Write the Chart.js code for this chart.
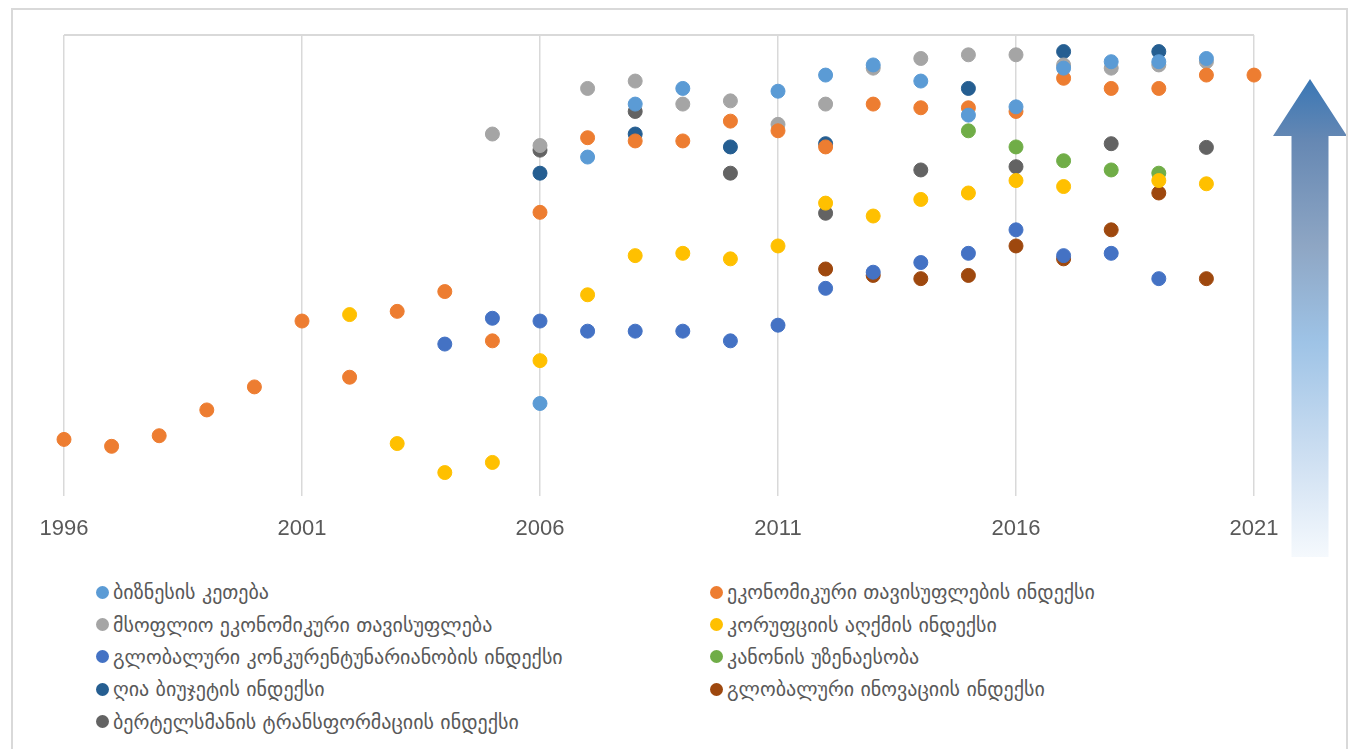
<!DOCTYPE html>
<html>
<head>
<meta charset="utf-8">
<script src="https://cdn.jsdelivr.net/npm/chart.js@4.4.1/dist/chart.umd.min.js"></script>
<style>
  body { margin: 0; background: #fff; width: 1353px; height: 749px; overflow: hidden; position: relative; }
  #frame { position: absolute; left: 11px; top: 8px; width: 1333px; height: 760px; border: 2px solid #D9D9D9; pointer-events: none; }
  #chart { position: absolute; left: 0; top: 0; }
  #legend { position: absolute; left: 96px; top: 576px; display: grid; grid-template-columns: 614px 620px; grid-auto-rows: 32.4px;
            font-family: "DejaVu Sans", sans-serif; font-size: 20px; color: #595959; }
  #legend div { display: flex; align-items: center; white-space: nowrap; }
  #legend span.dot { width: 13px; height: 13px; border-radius: 50%; margin-right: 4px; flex: none; }
</style>
</head>
<body>
<canvas id="chart" width="1353" height="562"></canvas>
<div id="legend"></div>
<div id="frame"></div>
<script>
// values are relative positions (0 = bottom of plot, 100 = top line)
const doingBusinessYears = [2006, 2007, 2008, 2009, 2011, 2012, 2013, 2014, 2015, 2016, 2017, 2018, 2019, 2020];
const doingBusiness = [20.0, 73.5, 85.0, 88.4, 87.8, 91.3, 93.5, 90.0, 82.6, 84.4, 92.8, 94.2, 94.2, 94.9];

const econFreedomYears = [1996, 1997, 1998, 1999, 2000, 2001, 2002, 2003, 2004, 2005, 2006, 2007, 2008,
                          2009, 2010, 2011, 2012, 2013, 2014, 2015, 2016, 2017, 2018, 2019, 2020, 2021];
const econFreedom = [12.2, 10.7, 13.0, 18.6, 23.6, 37.9, 25.7, 40.0, 44.3, 33.6, 61.5, 77.7, 77.0,
                     77.0, 81.3, 79.2, 75.7, 85.0, 84.2, 84.2, 83.4, 90.6, 88.4, 88.4, 91.3, 91.3];

const worldFreedomYears = [2005, 2006, 2007, 2008, 2009, 2010, 2011, 2012, 2013, 2014, 2015, 2016, 2017, 2018, 2019, 2020];
const worldFreedom = [78.5, 76.0, 88.4, 90.0, 85.0, 85.7, 80.6, 85.0, 92.8, 94.9, 95.7, 95.7, 93.5, 92.8, 93.5, 94.2];

const corruptionYears = [2002, 2003, 2004, 2005, 2006, 2007, 2008, 2009, 2010, 2011, 2012, 2013, 2014, 2015, 2016, 2017, 2019, 2020];
const corruption = [39.3, 11.3, 5.0, 7.2, 29.3, 43.6, 52.1, 52.6, 51.4, 54.2, 63.5, 60.7, 64.3, 65.7, 68.4, 67.1, 68.4, 67.7];

const competitivenessYears = [2004, 2005, 2006, 2007, 2008, 2009, 2010, 2011, 2012, 2013, 2014, 2015, 2016, 2017, 2018, 2019];
const competitiveness = [32.9, 38.5, 37.9, 35.7, 35.7, 35.7, 33.6, 37.0, 45.0, 48.5, 50.6, 52.6, 57.7, 52.1, 52.6, 47.1];

const ruleOfLawYears = [2015, 2016, 2017, 2018, 2019];
const ruleOfLaw = [79.2, 75.7, 72.7, 70.7, 70.0];

const openBudgetYears = [2006, 2008, 2010, 2012, 2015, 2017, 2019];
const openBudget = [70.0, 78.5, 75.7, 76.4, 88.4, 96.4, 96.4];

const innovationYears = [2012, 2013, 2014, 2015, 2016, 2017, 2018, 2019, 2020];
const innovation = [49.2, 47.8, 47.1, 47.8, 54.2, 51.4, 57.7, 65.7, 47.1];

const bertelsmannYears = [2006, 2008, 2010, 2012, 2014, 2016, 2018, 2020];
const bertelsmann = [75.0, 83.4, 70.0, 61.3, 70.7, 71.4, 76.4, 75.6];

const seriesNames = [
  "ბიზნესის კეთება",
  "ეკონომიკური თავისუფლების ინდექსი",
  "მსოფლიო ეკონომიკური თავისუფლება",
  "კორუფციის აღქმის ინდექსი",
  "გლობალური კონკურენტუნარიანობის ინდექსი",
  "კანონის უზენაესობა",
  "ღია ბიუჯეტის ინდექსი",
  "გლობალური ინოვაციის ინდექსი",
  "ბერტელსმანის ტრანსფორმაციის ინდექსი"
];
const seriesColors = ["#5B9BD5", "#ED7D31", "#A5A5A5", "#FFC000", "#4472C4", "#70AD47", "#255E91", "#9E480E", "#636363"];

const xTicks = [1996, 2001, 2006, 2011, 2016, 2021];

const seriesData = [
  [doingBusinessYears, doingBusiness],
  [econFreedomYears, econFreedom],
  [worldFreedomYears, worldFreedom],
  [corruptionYears, corruption],
  [competitivenessYears, competitiveness],
  [ruleOfLawYears, ruleOfLaw],
  [openBudgetYears, openBudget],
  [innovationYears, innovation],
  [bertelsmannYears, bertelsmann]
];

const datasets = seriesData.map((s, i) => ({
  label: seriesNames[i],
  data: s[0].map((yr, j) => ({ x: yr, y: s[1][j] })),
  backgroundColor: seriesColors[i],
  borderColor: seriesColors[i],
  pointRadius: 7,
  pointBorderWidth: 1,
  clip: false
}));

// gradient arrow on the right side
const arrowPlugin = {
  id: 'arrow',
  afterDraw(chart) {
    const c = chart.ctx;
    const g = c.createLinearGradient(0, 79, 0, 557);
    g.addColorStop(0, '#3A77B5');
    g.addColorStop(0.13, '#6688B3');
    g.addColorStop(0.35, '#8EA6C4');
    g.addColorStop(0.55, '#9EC3E6');
    g.addColorStop(0.8, '#CFE0F2');
    g.addColorStop(1, '#F5F9FD');
    c.save();
    c.fillStyle = g;
    c.beginPath();
    c.moveTo(1310, 79);
    c.lineTo(1347, 136);
    c.lineTo(1328.5, 136);
    c.lineTo(1328.5, 557);
    c.lineTo(1291.5, 557);
    c.lineTo(1291.5, 136);
    c.lineTo(1273, 136);
    c.closePath();
    c.fill();
    c.restore();
  }
};

const ctx = document.getElementById('chart').getContext('2d');
const chart = new Chart(ctx, {
  type: 'scatter',
  data: { datasets: datasets },
  options: {
    responsive: false,
    devicePixelRatio: 1,
    animation: false,
    events: [],
    layout: { padding: { left: 64, right: 99, top: 35, bottom: 0 } },
    plugins: { legend: { display: false }, tooltip: { enabled: false } },
    scales: {
      x: {
        type: 'linear',
        min: 1996,
        max: 2021,
        afterBuildTicks: (axis) => { axis.ticks = xTicks.map(v => ({ value: v })); },
        ticks: {
          padding: 20,
          color: '#595959',
          font: { family: 'Liberation Sans', size: 22 },
          callback: (v) => String(v)
        },
        grid: { color: '#D9D9D9', lineWidth: 1.5, drawTicks: false },
        border: { display: false }
      },
      y: {
        min: 0,
        max: 100,
        ticks: { display: false, stepSize: 20 },
        grid: {
          drawTicks: false,
          lineWidth: 2,
          color: (c) => c.tick && c.tick.value === 100 ? '#D9D9D9' : 'rgba(0,0,0,0)'
        },
        border: { display: false }
      }
    }
  },
  plugins: [arrowPlugin]
});

// two-column legend like the original
const legendBox = document.getElementById('legend');
chart.data.datasets.forEach(ds => {
  const item = document.createElement('div');
  const dot = document.createElement('span');
  dot.className = 'dot';
  dot.style.background = ds.backgroundColor;
  item.appendChild(dot);
  item.appendChild(document.createTextNode(ds.label));
  legendBox.appendChild(item);
});
</script>
</body>
</html>
